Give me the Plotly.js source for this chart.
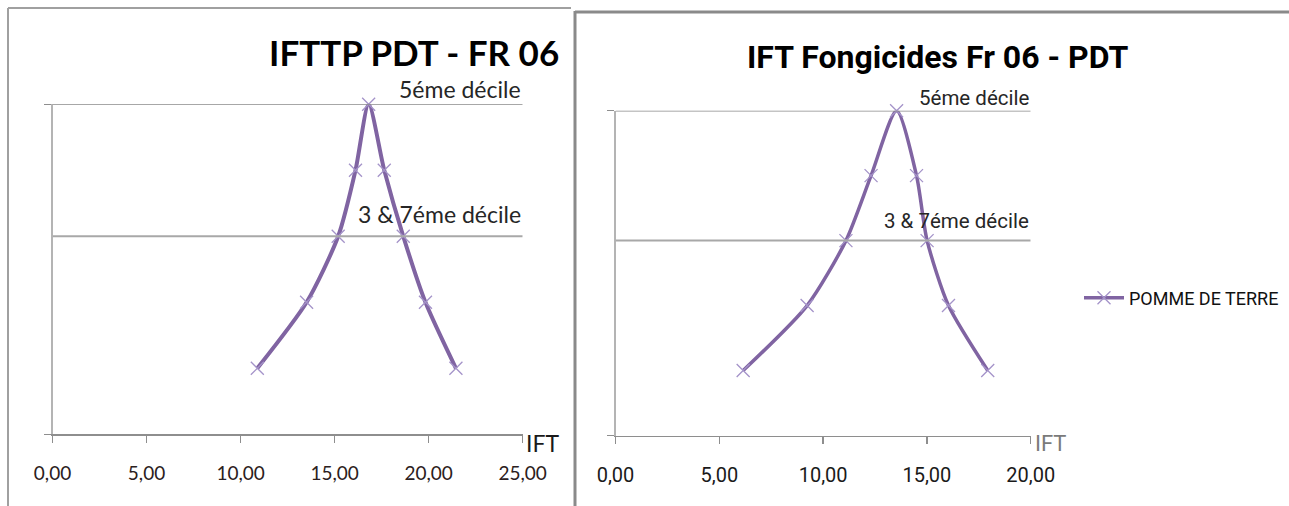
<!DOCTYPE html>
<html><head><meta charset="utf-8">
<script src="https://cdn.plot.ly/plotly-3.0.1.min.js"></script>
<style>html,body{margin:0;padding:0;background:#fff}#chart{width:1289px;height:506px}</style>
</head><body><div id="chart"></div>
<script>
// ---- data ----
const decileRank = [1, 2, 3, 4, 5, 4, 3, 2, 1];           // 1er..9éme décile (folded)
const iftttpPdt = [10.89, 13.51, 15.19, 16.11, 16.81, 17.64, 18.65, 19.83, 21.45];
const iftFongicides = [6.15, 9.23, 11.10, 12.31, 13.54, 14.50, 15.01, 16.04, 17.93];
const refLevels = [5, 3];
const refLabels = ['5éme décile', '3 & 7éme décile'];
const leftTicks = [0, 5, 10, 15, 20, 25];
const rightTicks = [0, 5, 10, 15, 20];
const seriesName = 'POMME DE TERRE';
const titles = ['IFTTP PDT - FR 06', 'IFT Fongicides Fr 06 - PDT'];
const axisTitle = 'IFT';

// ---- layout helpers ----
const W = 1289, H = 506;
const px = v => v / W, py = v => 1 - v / H;
const LEFT_FONT = 'Lato, Carlito, "Open Sans", sans-serif';
const NARROW_FONT = 'Roboto, sans-serif';
const PURPLE = '#8064A2';

function xaxisCfg(domain, ticks, font, size, color) {
  return {
    domain: domain, range: [ticks[0], ticks[ticks.length - 1]], tickvals: ticks,
    tickformat: '.2f', showgrid: false, zeroline: false,
    showline: true, linecolor: '#8e8e8e', linewidth: 1.5,
    ticks: 'outside', ticklen: 7, tickwidth: 1.5, tickcolor: '#8e8e8e',
    tickfont: {family: font, size: size, color: color}, ticklabelstandoff: 14,
    automargin: false, fixedrange: true
  };
}
function yaxisCfg(domain, anchor) {
  return {
    domain: domain, anchor: anchor, range: [0, 5], tickvals: [0, 5],
    showticklabels: false, showgrid: false, zeroline: false,
    showline: true, linecolor: '#b4b4b4', linewidth: 2,
    ticks: 'outside', ticklen: 7, tickwidth: 1.5, tickcolor: '#8e8e8e',
    automargin: false, fixedrange: true
  };
}

const traces = [
  {x: iftttpPdt, y: decileRank, xaxis: 'x', yaxis: 'y', name: seriesName,
   mode: 'lines+markers', showlegend: false, cliponaxis: false,
   line: {shape: 'spline', smoothing: 0.7, color: PURPLE, width: 4},
   marker: {symbol: 'x-thin', size: 13, color: '#a493c9', line: {width: 1.3, color: '#a493c9'}}},
  {x: iftFongicides, y: decileRank, xaxis: 'x2', yaxis: 'y2', name: seriesName,
   mode: 'lines+markers', showlegend: true, cliponaxis: false,
   line: {shape: 'spline', smoothing: 0.7, color: PURPLE, width: 3.5},
   marker: {symbol: 'x-thin', size: 13, color: '#a493c9', line: {width: 1.3, color: '#a493c9'}}}
];

const shapes = [];
const annotations = [];
const panels = [
  {xa: 'x', ya: 'y', max: leftTicks[leftTicks.length - 1], font: LEFT_FONT, size: 23, shifts: [-1, 6]},
  {xa: 'x2', ya: 'y2', max: rightTicks[rightTicks.length - 1], font: NARROW_FONT, size: 20.5, shifts: [-1, 6]}
];
panels.forEach(p => {
  refLevels.forEach((lv, i) => {
    shapes.push({type: 'line', xref: p.xa, yref: p.ya, x0: 0, x1: p.max, y0: lv, y1: lv,
      line: {color: i === 0 ? '#8a8a8a' : '#a8a8a8', width: i === 0 ? 1.5 : 2}});
    annotations.push({xref: p.xa, yref: p.ya, x: p.max, y: lv, text: refLabels[i],
      xanchor: 'right', yanchor: 'bottom', yshift: p.shifts[i], showarrow: false,
      font: {family: p.font, size: p.size, color: '#262626'}});
  });
});

// frames
shapes.push({type: 'line', xref: 'paper', yref: 'paper', x0: px(8), x1: px(571), y0: py(8), y1: py(8), line: {color: '#a0a0a0', width: 2}});
shapes.push({type: 'line', xref: 'paper', yref: 'paper', x0: px(8), x1: px(8), y0: py(8), y1: py(506), line: {color: '#a0a0a0', width: 2}});
shapes.push({type: 'line', xref: 'paper', yref: 'paper', x0: px(575), x1: px(1289), y0: py(12), y1: py(12), line: {color: '#8a8a8a', width: 3}});
shapes.push({type: 'line', xref: 'paper', yref: 'paper', x0: px(575), x1: px(575), y0: py(11), y1: py(506), line: {color: '#8a8a8a', width: 3}});

// titles
annotations.push({xref: 'paper', yref: 'paper', x: px(561), y: py(52), xanchor: 'right', yanchor: 'middle',
  text: '<b>' + titles[0] + '</b>', showarrow: false, font: {family: LEFT_FONT, size: 35, color: '#000'}});
annotations.push({xref: 'paper', yref: 'paper', x: px(937), y: py(57), xanchor: 'center', yanchor: 'middle',
  text: '<b>' + titles[1] + '</b>', showarrow: false, font: {family: NARROW_FONT, size: 32, color: '#000'}});
// axis titles
annotations.push({xref: 'paper', yref: 'paper', x: px(524), y: py(443), xanchor: 'left', yanchor: 'middle',
  text: axisTitle, showarrow: false, font: {family: LEFT_FONT, size: 23, color: '#1a1a1a'}});
annotations.push({xref: 'paper', yref: 'paper', x: px(1033), y: py(443), xanchor: 'left', yanchor: 'middle',
  text: axisTitle, showarrow: false, font: {family: NARROW_FONT, size: 22, color: '#7a7a7a'}});

const layout = {
  width: W, height: H, margin: {l: 0, r: 0, t: 0, b: 0, pad: 0, autoexpand: false},
  paper_bgcolor: '#fff', plot_bgcolor: 'rgba(0,0,0,0)',
  separators: ', ',
  xaxis: xaxisCfg([px(52.5), px(522.7)], leftTicks, LEFT_FONT, 19, '#2b2020'),
  yaxis: yaxisCfg([py(434.3), py(104.3)], 'x'),
  xaxis2: xaxisCfg([px(615.5), px(1030.7)], rightTicks, NARROW_FONT, 20, '#1a1a1a'),
  yaxis2: yaxisCfg([py(435.5), py(110.7)], 'x2'),
  showlegend: true,
  legend: {x: px(1079), y: py(298), xanchor: 'left', yanchor: 'middle', bgcolor: 'rgba(0,0,0,0)',
    font: {family: NARROW_FONT, size: 18, color: '#111'}, itemwidth: 40},
  shapes: shapes, annotations: annotations
};
layout.xaxis2.anchor = 'y2';
layout.xaxis.anchor = 'y';

Plotly.newPlot('chart', traces, layout, {displayModeBar: false, staticPlot: true});
</script></body></html>
